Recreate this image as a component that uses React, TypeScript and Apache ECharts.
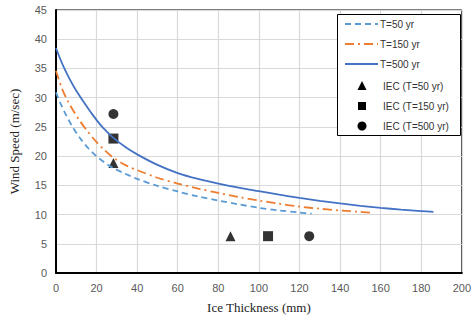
import React, { useEffect, useRef } from "react";
import * as echarts from "echarts";

const xTicks = [0, 20, 40, 60, 80, 100, 120, 140, 160, 180, 200];
const yTicks = [0, 5, 10, 15, 20, 25, 30, 35, 40, 45];

const t50: [number, number][] = [
  [0, 30.9], [2, 29.2], [5, 27.0], [8, 25.1], [12, 23.0], [16, 21.3], [20, 19.95], [24, 18.9], [28, 18.0],
  [34, 17.0], [40, 16.1], [50, 14.9], [60, 13.95], [70, 13.1], [80, 12.4], [90, 11.75], [100, 11.15],
  [110, 10.7], [120, 10.35], [126, 10.15],
];
const t150: [number, number][] = [
  [0, 34.6], [3, 31.5], [6, 29.3], [9, 27.5], [12, 25.9], [15, 24.5], [20, 22.4], [24, 21.0], [28, 19.8],
  [34, 18.5], [40, 17.6], [50, 16.3], [60, 15.3], [70, 14.45], [80, 13.7], [90, 13.0], [100, 12.4],
  [110, 11.85], [120, 11.35], [130, 11.0], [140, 10.7], [150, 10.45], [156, 10.3],
];
const t500: [number, number][] = [
  [0, 38.5], [2, 36.7], [4, 35.1], [7, 33.0], [10, 31.2], [14, 29.1], [18, 27.1], [22, 25.3], [25, 24.2],
  [28, 23.2], [34, 21.6], [40, 20.3], [50, 18.5], [60, 17.1], [70, 16.1], [80, 15.3], [90, 14.6],
  [100, 14.0], [110, 13.4], [120, 12.85], [130, 12.35], [140, 11.9], [150, 11.5], [160, 11.15],
  [170, 10.85], [180, 10.6], [186, 10.45],
];
const iec50: [number, number][] = [[28.3, 18.8], [86, 6.3]];
const iec150: [number, number][] = [[28.3, 23.0], [104.5, 6.3]];
const iec500: [number, number][] = [[28.3, 27.2], [124.8, 6.3]];

const lineNames = ["T=50 yr", "T=150 yr", "T=500 yr"];
const lineColors = ["#5b9bd5", "#ed7d31", "#4472c4"];
const lineDashes: (number[] | null)[] = [[6, 4], [9, 4, 2, 4], null];
const iecNames = ["IEC (T=50 yr)", "IEC (T=150 yr)", "IEC (T=500 yr)"];

export default function App() {
  const ref = useRef<HTMLDivElement>(null);
  useEffect(() => {
    const chart = echarts.init(ref.current!, null, { renderer: "svg" });
    const sans = "Liberation Sans";
    const serif = "Liberation Serif";
    const rowY = [24, 44, 64, 86, 106, 126];
    const legendEls: any[] = [
      { type: "rect", shape: { x: 337.5, y: 14.5, width: 123, height: 121 },
        style: { fill: "#fff", stroke: "#000", lineWidth: 1 }, z: 10 },
    ];
    lineNames.forEach((n, i) => {
      legendEls.push({ type: "line", shape: { x1: 345, y1: rowY[i], x2: 378, y2: rowY[i] },
        style: { stroke: lineColors[i], lineWidth: 1.8, lineDash: lineDashes[i] || undefined }, z: 11 });
      legendEls.push({ type: "text", x: 380, y: rowY[i],
        style: { text: n, fontFamily: sans, fontSize: 10, fill: "#333", verticalAlign: "middle" }, z: 11 });
    });
    const shapes = [
      { type: "polygon", shape: { points: [[362, rowY[3] - 5], [366.5, rowY[3] + 4], [357.5, rowY[3] + 4]] } },
      { type: "rect", shape: { x: 358, y: rowY[4] - 4, width: 8, height: 8 } },
      { type: "circle", shape: { cx: 362, cy: rowY[5], r: 4.5 } },
    ];
    iecNames.forEach((n, i) => {
      legendEls.push({ ...shapes[i], style: { fill: "#000" }, z: 11 });
      legendEls.push({ type: "text", x: 383, y: rowY[3 + i],
        style: { text: n, fontFamily: sans, fontSize: 10, fill: "#333", verticalAlign: "middle" }, z: 11 });
    });
    chart.setOption({
      animation: false,
      backgroundColor: "#fff",
      grid: { left: 53, right: 11, top: 10, bottom: 52, show: true, borderColor: "#000", borderWidth: 1 },
      xAxis: {
        type: "value", min: 0, max: 200, interval: 20,
        name: "Ice Thickness (mm)", nameLocation: "middle", nameGap: 28,
        nameTextStyle: { fontFamily: serif, fontSize: 13, color: "#222" },
        axisLine: { show: true, onZero: false, lineStyle: { color: "#000", width: 2 } },
        axisTick: { show: false },
        axisLabel: { color: "#595959", fontFamily: sans, fontSize: 11, margin: 9 },
        splitLine: { lineStyle: { color: "#d9d9d9", width: 1.2 } },
      },
      yAxis: {
        type: "value", min: 0, max: 45, interval: 5,
        name: "Wind Speed (m/sec)", nameLocation: "middle", nameGap: 35,
        nameTextStyle: { fontFamily: serif, fontSize: 13, color: "#222" },
        axisLine: { show: true, onZero: false, lineStyle: { color: "#000", width: 2 } },
        axisTick: { show: false },
        axisLabel: { color: "#595959", fontFamily: sans, fontSize: 11, margin: 9 },
        splitLine: { lineStyle: { color: "#d9d9d9", width: 1.2 } },
      },
      graphic: legendEls,
      series: [
        { name: lineNames[0], type: "line", data: t50, smooth: 0.3, symbol: "none",
          lineStyle: { color: lineColors[0], width: 1.8, type: lineDashes[0] } },
        { name: lineNames[1], type: "line", data: t150, smooth: 0.3, symbol: "none",
          lineStyle: { color: lineColors[1], width: 1.8, type: lineDashes[1] } },
        { name: lineNames[2], type: "line", data: t500, smooth: 0.3, symbol: "none",
          lineStyle: { color: lineColors[2], width: 1.8 } },
        { name: iecNames[0], type: "scatter", data: iec50, symbol: "triangle", symbolSize: 10, itemStyle: { color: "#000" } },
        { name: iecNames[1], type: "scatter", data: iec150, symbol: "rect", symbolSize: 10, itemStyle: { color: "#000" } },
        { name: iecNames[2], type: "scatter", data: iec500, symbol: "circle", symbolSize: 10, itemStyle: { color: "#000" } },
      ],
    });
    return () => chart.dispose();
  }, []);
  return <div ref={ref} style={{ width: 474, height: 325, position: "absolute", left: 0, top: 0 }} />;
}
